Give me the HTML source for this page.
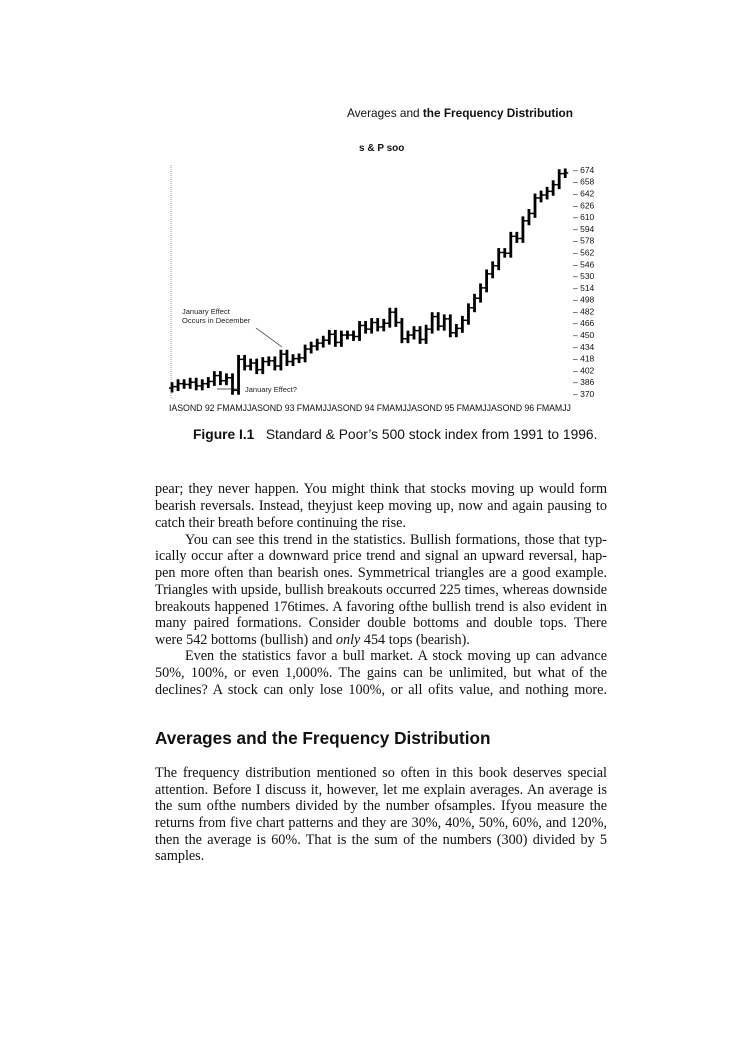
<!DOCTYPE html>
<html><head><meta charset="utf-8">
<style>
body{margin:0;background:#fff;}
#pg{position:relative;width:746px;height:1051px;background:#fff;overflow:hidden;font-family:"Liberation Serif",serif;color:#111;}
.a{position:absolute;white-space:nowrap;}
.l{position:absolute;left:155px;width:452px;font-size:14.2px;line-height:17px;text-align:justify;text-align-last:justify;white-space:nowrap;}
.l.e{text-align-last:left;}
.s{font-family:"Liberation Sans",sans-serif;}
</style></head><body>
<div id="pg">
<div class="a s" style="left:347px;top:106px;font-size:11.8px;">Averages and <b>the Frequency Distribution</b></div>
<div class="a s" style="left:359px;top:143px;font-size:10px;font-weight:bold;">s &amp; P soo</div>
<svg class="a" style="left:0;top:0" width="746" height="420" id="ch"></svg>
<div class="a s" style="left:169px;top:403px;font-size:8.8px;letter-spacing:-0.05px;">IASOND 92 FMAMJJASOND 93 FMAMJJASOND 94 FMAMJJASOND 95 FMAMJJASOND 96 FMAMJJ</div>
<div class="a s" style="left:193px;top:427px;font-size:13.8px;"><b>Figure I.1</b>&nbsp;&nbsp; Standard &amp; Poor’s 500 stock index from 1991 to 1996.</div>

<div class="l" style="top:481px">pear; they never happen. You might think that stocks moving up would form</div>
<div class="l" style="top:498px">bearish reversals. Instead, theyjust keep moving up, now and again pausing to</div>
<div class="l e" style="top:515px">catch their breath before continuing the rise.</div>
<div class="l" style="top:532px;width:422px;left:185px">You can see this trend in the statistics. Bullish formations, those that typ-</div>
<div class="l" style="top:548px">ically occur after a downward price trend and signal an upward reversal, hap-</div>
<div class="l" style="top:565px">pen more often than bearish ones. Symmetrical triangles are a good example.</div>
<div class="l" style="top:582px">Triangles with upside, bullish breakouts occurred 225 times, whereas downside</div>
<div class="l" style="top:599px">breakouts happened 176times. A favoring ofthe bullish trend is also evident in</div>
<div class="l" style="top:615px">many paired formations. Consider double bottoms and double tops. There</div>
<div class="l e" style="top:632px">were 542 bottoms (bullish) and <i>only</i> 454 tops (bearish).</div>
<div class="l" style="top:648px;width:422px;left:185px">Even the statistics favor a bull market. A stock moving up can advance</div>
<div class="l" style="top:665px">50%, 100%, or even 1,000%. The gains can be unlimited, but what of the</div>
<div class="l" style="top:682px">declines? A stock can only lose 100%, or all ofits value, and nothing more.</div>

<div class="a s" style="left:155px;top:728px;font-size:17.2px;font-weight:bold;">Averages and the Frequency Distribution</div>

<div class="l" style="top:765px">The frequency distribution mentioned so often in this book deserves special</div>
<div class="l" style="top:782px">attention. Before I discuss it, however, let me explain averages. An average is</div>
<div class="l" style="top:798px">the sum ofthe numbers divided by the number ofsamples. Ifyou measure the</div>
<div class="l" style="top:815px">returns from five chart patterns and they are 30%, 40%, 50%, 60%, and 120%,</div>
<div class="l" style="top:832px">then the average is 60%. That is the sum of the numbers (300) divided by 5</div>
<div class="l e" style="top:848px">samples.</div>
</div>
<script>
var c=[387,395,388,392,375,417,408,412,403,414,415,408,424,414,418,419,431,435,439,443,451,440,450,450,448,463,458,467,461,466,481,467,445,450,456,444,458,475,462,472,453,459,470,487,500,514,533,544,562,561,584,581,605,615,636,640,645,654,669,670];
c=[380,384,383,386,381,384].concat(c).slice(0,66);
var s='';
function Y(p){return 394-(p-370)*0.737;}
for(var i=0;i<c.length;i++){
 var x=172+i*6.05,o=i?c[i-1]:378,cl=c[i];
 var h=Math.max(o,cl)+6,l=Math.min(o,cl)-6;
 s+='<line x1="'+x+'" x2="'+x+'" y1="'+Y(h)+'" y2="'+Y(l)+'" stroke="#000" stroke-width="2.8"/>';
 s+='<line x1="'+(x-3)+'" x2="'+x+'" y1="'+Y(o)+'" y2="'+Y(o)+'" stroke="#000" stroke-width="1.5"/>';
 s+='<line x1="'+x+'" x2="'+(x+3)+'" y1="'+Y(cl)+'" y2="'+Y(cl)+'" stroke="#000" stroke-width="1.5"/>';
}
var t=[674,658,642,626,610,594,578,562,546,530,514,498,482,466,450,434,418,402,386,370];
for(var j=0;j<t.length;j++){var y=Y(t[j]);
 s+='<text x="573" y="'+(y+3)+'" font-family="Liberation Sans,sans-serif" font-size="8.5" fill="#111">– '+t[j]+'</text>';}
s+='<line x1="171" x2="171" y1="165" y2="398" stroke="#555" stroke-width="0.6" stroke-dasharray="1,1"/>';
s+='<text x="182" y="314" font-family="Liberation Sans,sans-serif" font-size="7.5" fill="#222">January Effect</text>';
s+='<text x="182" y="323" font-family="Liberation Sans,sans-serif" font-size="7.5" fill="#222">Occurs in December</text>';
s+='<line x1="256" x2="282" y1="328" y2="347" stroke="#222" stroke-width="0.7"/>';
s+='<line x1="217" x2="240" y1="389" y2="389" stroke="#222" stroke-width="0.7"/>';
s+='<text x="245" y="392" font-family="Liberation Sans,sans-serif" font-size="7.5" fill="#222">January Effect?</text>';
document.getElementById('ch').innerHTML=s;
</script>
</body></html>
